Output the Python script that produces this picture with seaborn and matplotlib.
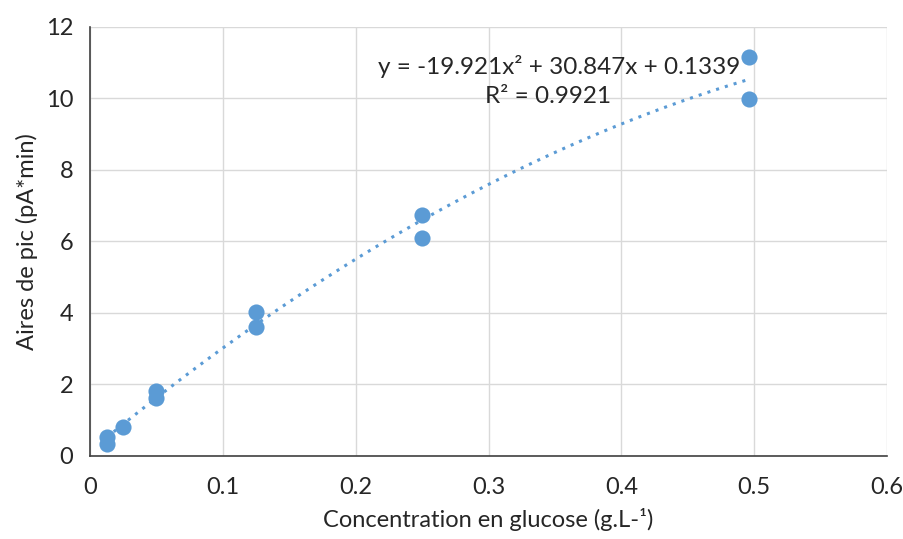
import numpy as np
import pandas as pd
import matplotlib
matplotlib.use("Agg")
import matplotlib.pyplot as plt
import seaborn as sns

# Data
concentration = [0.0125, 0.0125, 0.025, 0.05, 0.05, 0.125, 0.125, 0.25, 0.25, 0.496, 0.496]
aire = [0.53, 0.34, 0.81, 1.82, 1.62, 4.03, 3.60, 6.74, 6.10, 11.16, 9.99]
poly_coefs = [-19.921, 30.847, 0.1339]
r2 = 0.9921
x_ticks = [0, 0.1, 0.2, 0.3, 0.4, 0.5, 0.6]
y_ticks = [0, 2, 4, 6, 8, 10, 12]

sns.set_theme(style="whitegrid")
plt.rcParams['font.family'] = ['Lato', 'DejaVu Sans']

fig = plt.figure(figsize=(9.04, 5.39), dpi=100)
ax = fig.add_axes([0.0996, 0.154, 0.8816, 0.796])

df = pd.DataFrame({"x": concentration, "y": aire})
color = "#5B9BD5"
txt = "#262626"

xs = np.linspace(min(concentration), max(concentration), 200)
ax.plot(xs, np.polyval(poly_coefs, xs), linestyle=(0, (1, 2)), color=color, linewidth=2.2, zorder=2)
sns.scatterplot(data=df, x="x", y="y", ax=ax, s=135, color=color, edgecolor=color, linewidth=0, zorder=3)

ax.set_xlim(0, 0.6)
ax.set_ylim(0, 12)
ax.set_xticks(x_ticks)
ax.set_xticklabels(["0", "0.1", "0.2", "0.3", "0.4", "0.5", "0.6"])
ax.set_yticks(y_ticks)
ax.set_yticklabels([str(v) for v in y_ticks])
ax.tick_params(axis='both', labelsize=17, colors=txt, length=0)
ax.tick_params(axis='y', pad=12)
ax.tick_params(axis='x', pad=15)
ax.grid(True, color="#D9D9D9", linewidth=1)
ax.set_facecolor("white")
for s in ["top", "right"]:
    ax.spines[s].set_visible(False)
for s in ["left", "bottom"]:
    ax.spines[s].set_color("#404040")
    ax.spines[s].set_linewidth(1.2)

ax.set_xlabel("Concentration en glucose (g.L-¹)", fontsize=17, color=txt, labelpad=7)
ax.set_ylabel("Aires de pic (pA*min)", fontsize=17, color=txt, labelpad=6)

a, b, c = poly_coefs
ax.text(0.588, 0.907, f"y = {a}x² + {b}x + {c}", transform=ax.transAxes,
        ha="center", va="center", fontsize=17.5, color=txt)
ax.text(0.575, 0.837, f"R² = {r2}", transform=ax.transAxes,
        ha="center", va="center", fontsize=17.5, color=txt)

fig.savefig("out.png", dpi=100, facecolor="white")
